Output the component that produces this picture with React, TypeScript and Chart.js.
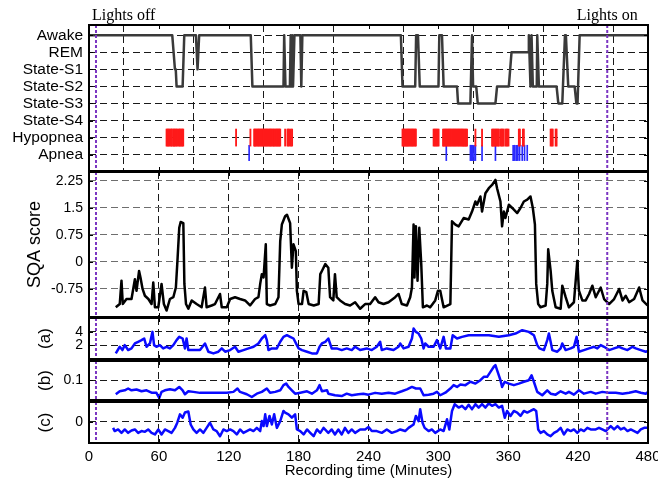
import React, { useEffect, useRef } from "react";
import { Chart, registerables } from "chart.js";

Chart.register(...registerables);

const SANS = '"Liberation Sans", Arial, Helvetica, sans-serif';
const SERIF = '"Liberation Serif", "Times New Roman", serif';

// ---------- data ----------
const stageLabels = ["Awake", "REM", "State-S1", "State-S2", "State-S3", "State-S4", "Hypopnea", "Apnea"];
const xTickValues = [0, 60, 120, 180, 240, 300, 360, 420, 480];
const sqaTicks = [-0.75, 0, 0.75, 1.5, 2.25];
const aTicks = [2, 4];
const bTicks = [0.1];
const cTicks = [0];
const lightsOff = 6;
const lightsOn = 445;

// hypnogram: [minute, stage index]
const hypnogram: [number, number][] = [
  [0, 0], [71.5, 0], [73.8, 2], [74.5, 2], [75.2, 3], [80.4, 3], [81.8, 0], [91.8, 0], [93.2, 2], [94.6, 0],
  [138.9, 0], [140.3, 3], [167, 3], [167.6, 0], [168.7, 3], [172.5, 3], [173.2, 0], [173.8, 3], [174.5, 0],
  [175.2, 3], [175.8, 3], [176.4, 0], [181.5, 0], [182.3, 3], [183.2, 0], [267.8, 0], [269.2, 3], [280.1, 3],
  [280.9, 0], [282.5, 0], [284, 3], [300.1, 3], [300.8, 0], [303.1, 0], [304.5, 3], [316, 3], [316.9, 4],
  [327.5, 4], [328.9, 0], [329.8, 3], [332.5, 3], [333.8, 4], [349, 4], [350.4, 3], [360.5, 3], [362.8, 1],
  [377.1, 1], [377.7, 0], [379.1, 3], [380, 0], [381.1, 3], [384.5, 3], [384.9, 0], [386.3, 3], [401.5, 3],
  [403, 4], [406.4, 4], [408.7, 0], [409.5, 0], [411.5, 3], [417, 3], [418.5, 4], [419.5, 4], [421.3, 0], [480, 0],
];

const hypopneaTimes = [
  66.6, 67.3, 68.1, 68.8, 69.9, 70.6, 71.2, 72.3, 73.0, 73.6, 74.5, 75.3, 76.0, 77.2, 77.9, 78.6, 79.5, 80.2, 80.9,
  126.3, 138.6,
  141.8, 142.5, 143.2, 144.0, 144.9, 145.6, 146.3, 147.2, 147.9, 148.8, 149.5, 150.1, 151.0, 151.8, 152.6, 153.3,
  154.2, 155.0, 155.7, 156.4, 157.3, 158.1, 158.8, 159.6, 160.5, 161.3, 162.0, 162.8, 163.5, 164.2,
  168.4, 170.4, 171.2, 172.1, 173.4, 174.4,
  269.2, 269.9, 270.6, 271.4, 272.3, 273.0, 273.8, 274.5, 275.3, 276.1, 276.9, 277.6, 278.3, 279.2, 280.0, 280.7,
  295.9, 296.7, 297.6, 298.4, 299.3, 300.2,
  304.0, 304.8, 305.6, 306.4, 307.2, 308.1, 308.9, 309.7, 310.5, 311.3, 312.2, 313.0, 313.8, 314.6, 315.4, 316.3,
  317.1, 317.9, 318.8, 319.6, 320.4, 321.2, 322.0, 322.9, 323.7, 324.6,
  331.8, 337.5,
  346.1, 346.9, 347.7, 348.6, 349.4, 350.2, 351.1, 352.0, 353.5, 354.3, 355.1, 356.0, 357.6, 358.5, 359.3, 360.2,
  369.1, 370.0, 372.6, 373.4,
  396.4, 397.3, 398.2, 400.7, 401.5,
];

const apneaTimes = [
  137.5, 306.8, 327.5, 328.3, 329.5, 330.6, 331.8, 337.5, 349, 364.2, 365.4, 366.8, 368.2, 369.7, 372, 374, 376.3,
];

// SQA score: [minute, score]
const sqaSeries: [number, number][] = [
  [23, -1.26], [26.4, -1.17], [27.9, -0.52], [29, -1.17], [32.2, -1.03], [36.5, -1.03], [39.4, -0.48], [40.8, -0.8],
  [43, -0.25], [44.2, -0.43], [46, -0.75], [48, -0.94], [51, -1.03], [53.7, -1.17], [55.2, -0.57], [56.6, -1.26],
  [59.5, -1.26], [62.3, -0.61], [64.3, -1.17], [66.6, -1.35], [69.5, -1.03], [72.4, -0.98], [74.6, -0.71],
  [76.1, 0.12], [77.5, 0.95], [78.7, 1.11], [81, 1.08], [81.9, -0.61], [83.3, -1.17], [85.3, -1.3], [88.2, -1.07],
  [92.4, -1.17], [96.7, -1.26], [99.6, -0.71], [101, -1.26], [105.3, -1.21], [108.2, -1.17], [112.5, -0.89],
  [114, -1.26], [118.3, -1.26], [121.2, -1.03], [125.4, -0.98], [129.7, -1.03], [134, -1.07], [138.3, -1.21],
  [142.6, -1.03], [145.5, -0.98], [147, -0.61], [148.4, -0.34], [149.9, -0.43], [151.8, 0.49], [152.7, -1.17],
  [155.5, -1.21], [159.9, -1.17], [162.7, -0.98], [164.2, 0.58], [165.6, 1.04], [168.4, 1.27], [170, 1.31],
  [172.7, 1.08], [174.2, -0.16], [175.6, 0.49], [177.6, 0.3], [178.5, -0.8], [180, -1.17], [182.9, -1.17],
  [184.3, -0.8], [186.6, -0.84], [188.6, -1.17], [193, -1.21], [197.2, -1.17], [198.6, -0.34], [200, -0.25],
  [202.9, -0.06], [205.5, -0.16], [207, -0.98], [209.8, -1.07], [211.2, -0.34], [212.7, -0.98], [215.6, -1.07],
  [219.9, -1.17], [224.2, -1.21], [228.5, -1.12], [232.8, -1.3], [237.1, -1.17], [241.4, -1.17], [245.7, -0.98],
  [248.6, -1.12], [252.9, -1.17], [257.2, -1.12], [262.9, -0.98], [265.8, -0.89], [268.6, -1.17], [273, -1.21],
  [275.8, -0.98], [277.3, -0.71], [278.7, 1.04], [279.5, -0.43], [280.7, 0.99], [282.1, -0.52], [283.6, 0.95],
  [285.3, -0.06], [286.7, -1.26], [290.2, -1.21], [293, -1.26], [297.3, -1.07], [299.6, -0.8], [301.6, -0.8],
  [304.5, -1.26], [310.3, -1.17], [311.7, 1.13], [314.6, 1.04], [317.4, 0.99], [321.7, 1.22], [326, 1.18],
  [328.9, 1.4], [331.8, 1.68], [333.2, 1.59], [336.1, 1.82], [337.5, 1.4], [340.4, 1.91], [343.3, 2.05],
  [346.1, 2.14], [349, 2.28], [350.4, 2.05], [353.3, 1.68], [354.7, 0.99], [356.2, 1.4], [357.6, 1.22],
  [360.5, 1.59], [363.4, 1.5], [367.7, 1.36], [370.5, 1.5], [373.4, 1.68], [376.3, 1.73], [379.1, 1.82],
  [381.1, 1.5], [382.9, 1.04], [384, -0.61], [385.7, -1.17], [387.7, -1.26], [392.1, -1.21], [393.5, -0.61],
  [394.3, 0.35], [396.4, -0.25], [397.8, -0.8], [400.7, -1.26], [405, -1.3], [406.4, -0.66], [409.3, -0.98],
  [412.1, -1.26], [416.4, -1.12], [419.3, 0.03], [420.7, -0.8], [423.6, -1.07], [426.5, -1.07], [429.4, -0.89],
  [432.2, -0.66], [435.1, -0.98], [439.4, -0.71], [442.3, -1.03], [446.6, -1.17], [450.9, -1.03], [455.2, -0.75],
  [458.1, -1.07], [460.9, -0.94], [463.8, -1.12], [468.1, -1.03], [472.4, -0.71], [475.3, -1.07], [479.6, -1.21],
];

// panel (a)
const seriesA: [number, number][] = [
  [23, 0.75], [26.4, 1.75], [28.7, 1.25], [30.7, 2], [33.6, 1.25], [36.5, 1.5], [39.4, 2.25], [42.2, 2.5],
  [45.1, 2.75], [47.4, 3], [49.4, 1.75], [52.3, 2.25], [54.5, 4], [55.9, 2], [57.9, 1.75], [60.8, 2], [63.7, 1.5],
  [66.6, 1.75], [69.5, 1.5], [72.4, 2], [75.2, 2.75], [77.5, 3.25], [80.4, 3], [82.4, 1.5], [83.8, 3], [85.3, 1.25],
  [89.6, 1.25], [95.3, 1.25], [99.6, 2.25], [102.5, 1], [106.8, 0.75], [111.1, 1], [114, 1.5], [116.9, 1],
  [121.2, 1.25], [125.4, 1.75], [128.3, 1], [132.6, 1.25], [137, 1.5], [141.3, 1.75], [145.5, 2.25], [148.4, 3],
  [151.3, 3.5], [152.7, 2.75], [154.1, 1.25], [157, 1.5], [161.3, 1.5], [164.2, 2.5], [167, 3.25], [169.9, 3.5],
  [172.7, 3.25], [175.6, 3], [178.5, 2], [180, 1.5], [182.9, 1.25], [187.2, 1], [191.4, 0.75], [195.7, 0.75],
  [198, 1.75], [200, 2.25], [202.9, 2.5], [205.5, 3], [208.4, 1.5], [212.7, 1.5], [217, 1.25], [221.3, 1.5],
  [225.6, 1.25], [228.5, 1.75], [232.8, 1.25], [238.5, 1.5], [242.8, 1.25], [247.1, 1.75], [250, 2.5],
  [251.4, 1.25], [255.7, 1.5], [261.5, 1.25], [265.8, 1.75], [267.2, 2.25], [270.1, 1.5], [274.4, 1.75],
  [277.3, 3], [278.7, 4.5], [280.7, 4], [283, 3.75], [285.3, 3], [287.3, 1.5], [288.7, 2.25], [291.6, 1.75],
  [295.9, 1.75], [298.8, 2.75], [301.6, 1.5], [304.5, 3.25], [306.5, 1.5], [310.3, 1.5], [312.3, 3.5], [316, 3],
  [320.3, 3.25], [326, 3.5], [334.7, 3.5], [343.3, 3.5], [351.9, 3.25], [360.5, 3.5], [366.2, 3.75], [372, 4.25],
  [377.7, 4], [382, 3.5], [384.9, 2], [386.9, 1.5], [390.6, 1.25], [393.5, 2.75], [394.9, 3.75], [396.4, 2.5],
  [397.8, 1.25], [402.1, 1], [405, 1.5], [406.4, 2.25], [409.3, 1.25], [413.6, 1.5], [416.4, 1.75], [418.7, 3.25],
  [420.7, 1], [425, 1.25], [429.4, 1.5], [433.7, 1.75], [436.5, 1.5], [439.4, 2], [442.3, 1.75], [446.6, 1.25],
  [450.9, 1.5], [455.2, 1.75], [458.1, 1.5], [462.4, 1.25], [466.7, 1.75], [469.5, 1.5], [473.8, 1.25],
  [478.1, 1], [480, 1.1],
];

// panel (b)
const seriesB: [number, number][] = [
  [23, 0.029], [26.4, 0.044], [30.7, 0.049], [33.6, 0.058], [36.5, 0.049], [40.8, 0.053], [45.1, 0.044],
  [49.4, 0.049], [53.7, 0.037], [57.9, 0.036], [60.3, 0.01], [62.3, 0.041], [65.2, 0.049], [69.5, 0.054],
  [73.8, 0.049], [77.5, 0.066], [80.4, 0.049], [82.4, 0.029], [85.3, 0.044], [89.6, 0.041], [95.3, 0.036],
  [101, 0.037], [106.8, 0.037], [112.5, 0.036], [118.3, 0.037], [124, 0.041], [127.5, 0.058], [129.7, 0.041],
  [135.5, 0.029], [139.8, 0.015], [144.1, 0.032], [148.4, 0.041], [152.7, 0.058], [155.5, 0.037], [159.9, 0.041],
  [164.2, 0.049], [167, 0.075], [169.3, 0.083], [171.3, 0.066], [174.2, 0.049], [177, 0.032], [181.4, 0.037],
  [187.2, 0.044], [191.4, 0.032], [195.7, 0.049], [198, 0.075], [200, 0.044], [204.4, 0.049], [205.5, 0.032],
  [211.2, 0.024], [217, 0.02], [221.3, 0.032], [225.6, 0.024], [231.3, 0.029], [235.6, 0.032], [239.9, 0.027],
  [245.7, 0.036], [251.4, 0.032], [257.2, 0.037], [262.9, 0.032], [268.6, 0.044], [273, 0.054], [277.3, 0.066],
  [280.7, 0.058], [284.4, 0.058], [287.3, 0.024], [291.6, 0.027], [295.9, 0.032], [298.8, 0.041], [301.6, 0.024],
  [306, 0.037], [310.3, 0.058], [313.1, 0.075], [316, 0.066], [318.9, 0.078], [323.2, 0.075], [327.5, 0.092],
  [331.8, 0.083], [336.1, 0.1], [339, 0.117], [341.9, 0.117], [344.7, 0.142], [347.6, 0.168], [349, 0.176],
  [350.4, 0.151], [353.3, 0.1], [354.7, 0.066], [357, 0.092], [360.5, 0.083], [364.8, 0.075], [369.1, 0.083],
  [373.4, 0.092], [377.7, 0.1], [380, 0.125], [382, 0.092], [384.9, 0.041], [389.2, 0.024], [393.5, 0.049],
  [396.4, 0.032], [400.7, 0.027], [405, 0.044], [409.3, 0.032], [412.1, 0.041], [416.4, 0.027], [420.7, 0.049],
  [425, 0.032], [430.8, 0.041], [435.1, 0.032], [440.8, 0.041], [446.6, 0.036], [452.3, 0.037], [458.1, 0.032],
  [463.8, 0.037], [469.5, 0.044], [473.8, 0.037], [478.1, 0.032], [480, 0.041],
];

// panel (c)
const seriesC: [number, number][] = [
  [20.7, -0.31], [22.1, -0.47], [25, -0.39], [27.9, -0.56], [30.7, -0.39], [33.6, -0.56], [36.5, -0.44],
  [39.4, -0.39], [42.2, -0.56], [45.1, -0.47], [48, -0.51], [50.8, -0.39], [53.7, -0.56], [56.6, -0.64],
  [59.5, -0.39], [62.3, -0.64], [65.2, -0.39], [68.1, -0.47], [70.9, -0.56], [73.8, -0.31], [75.8, -0.05],
  [78.1, 0.37], [80.4, 0.2], [82.4, 0.46], [85.3, 0.51], [87.3, -0.14], [89.6, -0.39], [92.4, -0.56],
  [95.3, -0.39], [98.2, -0.56], [101, -0.31], [103.9, -0.05], [106.8, -0.39], [109.6, -0.47], [112.5, -0.73],
  [115.4, -0.39], [118.3, -0.47], [121.2, -0.39], [124, -0.47], [126.9, -0.64], [129.7, -0.39], [132.6, -0.56],
  [135.5, -0.47], [138.3, -0.39], [141.2, -0.47], [144.1, -0.31], [147, -0.47], [148.4, 0.03], [149.9, -0.22],
  [151.3, 0.37], [152.7, -0.22], [155, 0.29], [157, -0.14], [159, 0.37], [161.3, -0.31], [164.2, 0.03],
  [167, 0.54], [168.4, 0.46], [171.3, 0.37], [174.2, 0.2], [177, 0.37], [178.5, -0.39], [181.4, -0.47],
  [184.3, -0.64], [187.2, -0.39], [190, -0.56], [192.9, -0.73], [195.7, -0.39], [198.6, -0.56], [201.4, -0.31],
  [205.5, -0.56], [208.4, -0.39], [211.2, -0.64], [214.1, -0.39], [217, -0.64], [219.8, -0.31], [222.7, -0.56],
  [225.6, -0.39], [228.5, -0.56], [232.8, -0.39], [237.1, -0.39], [240, -0.27], [242.8, -0.47], [247.1, -0.47],
  [251.4, -0.56], [255.7, -0.39], [260, -0.56], [264.3, -0.47], [267.2, -0.39], [271.5, -0.47], [274.4, -0.31],
  [278.7, -0.14], [280.7, 0.29], [283, 0.03], [284.4, 0.63], [286.4, -0.05], [288.2, -0.31], [291.6, -0.47],
  [294.4, -0.39], [297.3, -0.56], [301.6, -0.39], [304.5, -0.47], [307.4, 0.12], [309.4, -0.39], [311.7, 0.54],
  [314, 0.88], [317.4, 0.71], [320.3, 0.8], [323.2, 0.63], [326, 0.85], [328.9, 0.63], [331.8, 0.88],
  [334.6, 0.71], [337.5, 0.88], [340.4, 0.71], [343.3, 0.92], [346.1, 0.8], [349, 0.88], [351.9, 0.71],
  [354.7, 0.8], [357, 0.2], [359, 0.54], [361.9, 0.29], [364.8, 0.54], [367.7, 0.46], [370.5, 0.29],
  [373.4, 0.54], [376.3, 0.46], [379.1, 0.54], [382, 0.63], [384, 0.54], [385.7, -0.39], [387.7, -0.56],
  [390.6, -0.47], [393.5, -0.64], [396.4, -0.73], [399.3, -0.56], [402.1, -0.47], [405, -0.31], [407.8, -0.64],
  [410.7, -0.39], [413.6, -0.47], [416.4, -0.39], [419.3, -0.56], [422.2, -0.39], [425, -0.47], [427.9, -0.31],
  [430.8, -0.39], [435.1, -0.39], [437.9, -0.31], [440.8, -0.39], [443.7, -0.47], [448, -0.22], [450.9, -0.39],
  [453.8, -0.22], [456.6, -0.39], [459.5, -0.31], [462.4, -0.47], [465.2, -0.39], [468.1, -0.47], [471, -0.56],
  [473.8, -0.39], [476.7, -0.31], [480, -0.31],
];

// ---------- helpers ----------
const toXY = (pts: [number, number][]) => pts.map(([x, y]) => ({ x, y }));
const toBars = (times: number[], lo: number, hi: number) => times.map((t) => ({ x: t, y: [lo, hi] }));

const framePlugin = {
  id: "frame",
  afterDatasetsDraw(chart: any, _args: any, opts: any) {
    const { ctx, chartArea: a, scales } = chart;
    const xs = scales.x;
    const ys = scales.y;
    ctx.save();
    // lights off / on markers
    ctx.strokeStyle = "#7b35c2";
    ctx.lineWidth = 2;
    ctx.setLineDash([3, 2]);
    for (const t of [lightsOff, lightsOn]) {
      const px = xs.getPixelForValue(t);
      ctx.beginPath();
      ctx.moveTo(px, a.top);
      ctx.lineTo(px, a.bottom);
      ctx.stroke();
    }
    ctx.setLineDash([]);
    // inward tick marks
    ctx.strokeStyle = "#000";
    ctx.lineWidth = 1;
    ctx.beginPath();
    ys.ticks.forEach((tk: any) => {
      const py = Math.round(ys.getPixelForValue(tk.value)) + 0.5;
      ctx.moveTo(a.left, py);
      ctx.lineTo(a.left + 4, py);
      ctx.moveTo(a.right, py);
      ctx.lineTo(a.right - 4, py);
    });
    xs.ticks.forEach((tk: any) => {
      const px = Math.round(xs.getPixelForValue(tk.value)) + 0.5;
      ctx.moveTo(px, a.top);
      ctx.lineTo(px, a.top + 4);
      ctx.moveTo(px, a.bottom);
      ctx.lineTo(px, a.bottom - 4);
    });
    ctx.stroke();
    // frame
    ctx.lineWidth = 2;
    ctx.strokeRect(a.left, a.top, a.right - a.left, a.bottom - a.top);
    // labels above the plot
    if (opts && opts.lights) {
      ctx.fillStyle = "#000";
      ctx.font = `16px ${SERIF}`;
      ctx.textBaseline = "alphabetic";
      ctx.textAlign = "left";
      ctx.fillText("Lights off", xs.getPixelForValue(lightsOff) - 4, 20);
      ctx.textAlign = "center";
      ctx.fillText("Lights on", xs.getPixelForValue(lightsOn), 20);
    }
    ctx.restore();
  },
};

function xScale(show: boolean) {
  return {
    type: "linear",
    min: 0,
    max: 480,
    offset: false,
    afterBuildTicks: (s: any) => {
      s.ticks = xTickValues.map((v) => ({ value: v }));
    },
    afterFit: (s: any) => {
      s.height = show ? 42 : 0;
      s.paddingLeft = 0;
      s.paddingRight = 0;
      s.paddingTop = 0;
      s.paddingBottom = 0;
    },
    grid: { color: "#1a1a1a", lineWidth: 1, drawTicks: false },
    border: { display: false, dash: [7, 4] },
    ticks: {
      display: show,
      padding: 5,
      color: "#000",
      font: { family: SANS, size: 15 },
      maxRotation: 0,
      autoSkip: false,
    },
    title: show
      ? {
          display: true,
          text: "Recording time (Minutes)",
          color: "#000",
          font: { family: SANS, size: 15 },
          padding: { top: 0, bottom: 5 },
        }
      : { display: false },
  };
}

type YOpts = {
  min: number;
  max: number;
  ticks: number[];
  labels?: string[];
  reverse?: boolean;
  title?: string;
  titleSize?: number;
  titlePad?: number;
  tickSize: number;
  gridColor: string;
};

function yScale(o: YOpts) {
  return {
    type: "linear",
    position: "left",
    min: o.min,
    max: o.max,
    reverse: !!o.reverse,
    afterBuildTicks: (s: any) => {
      s.ticks = o.ticks.map((v) => ({ value: v }));
    },
    afterFit: (s: any) => {
      s.width = 89;
      s.paddingLeft = 0;
      s.paddingRight = 0;
      s.paddingTop = 0;
      s.paddingBottom = 0;
    },
    ticks: {
      color: "#000",
      padding: 6,
      autoSkip: false,
      font: { family: SANS, size: o.tickSize },
      callback: (v: any) => (o.labels ? o.labels[v] : String(v)),
    },
    grid: { color: o.gridColor, lineWidth: 1, drawTicks: false },
    border: { display: false, dash: [7, 4] },
    title: o.title
      ? {
          display: true,
          text: o.title,
          color: "#000",
          font: { family: SANS, size: o.titleSize },
          padding: { top: o.titlePad, bottom: 0 },
        }
      : { display: false },
  };
}

function lineDs(pts: [number, number][], color: string, width: number) {
  return {
    type: "line",
    data: toXY(pts),
    borderColor: color,
    borderWidth: width,
    pointRadius: 0,
    tension: 0,
    fill: false,
    borderJoinStyle: "round",
  };
}

type PanelDef = {
  top: number;
  height: number;
  padTop: number;
  padBottom: number;
  showX: boolean;
  lights: boolean;
  datasets: any[];
  y: YOpts;
};

const panels: PanelDef[] = [
  {
    top: 0,
    height: 177,
    padTop: 25,
    padBottom: 6,
    showX: false,
    lights: true,
    datasets: [
      lineDs(hypnogram, "#3a3a3a", 2.5),
      {
        type: "bar",
        data: toBars(hypopneaTimes, 5.5, 6.5),
        backgroundColor: "#ff1a1a",
        borderWidth: 0,
        barThickness: 1.2,
        grouped: false,
      },
      {
        type: "bar",
        data: toBars(apneaTimes, 6.45, 7.35),
        backgroundColor: "#2a2aff",
        borderWidth: 0,
        barThickness: 1,
        grouped: false,
      },
    ],
    y: { min: -0.6, max: 7.96, ticks: [0, 1, 2, 3, 4, 5, 6, 7], labels: stageLabels, reverse: true, tickSize: 15.5, gridColor: "#1a1a1a" },
  },
  {
    top: 166,
    height: 157,
    padTop: 6,
    padBottom: 6,
    showX: false,
    lights: false,
    datasets: [lineDs(sqaSeries, "#000", 2.5)],
    y: { min: -1.53, max: 2.5, ticks: sqaTicks, tickSize: 14, gridColor: "#6e6e6e", title: "SQA score", titleSize: 18, titlePad: 24 },
  },
  {
    top: 312,
    height: 53,
    padTop: 6,
    padBottom: 6,
    showX: false,
    lights: false,
    datasets: [lineDs(seriesA, "#0a0aff", 2.5)],
    y: { min: -0.1, max: 6.1, ticks: aTicks, tickSize: 14, gridColor: "#1a1a1a", title: "(a)", titleSize: 17, titlePad: 35 },
  },
  {
    top: 355,
    height: 51,
    padTop: 6,
    padBottom: 6,
    showX: false,
    lights: false,
    datasets: [lineDs(seriesB, "#0a0aff", 2.5)],
    y: { min: 0, max: 0.197, ticks: bTicks, tickSize: 14, gridColor: "#1a1a1a", title: "(b)", titleSize: 17, titlePad: 35 },
  },
  {
    top: 396,
    height: 89,
    padTop: 6,
    padBottom: 0,
    showX: true,
    lights: false,
    datasets: [lineDs(seriesC, "#0a0aff", 2.5)],
    y: { min: -1.07, max: 0.99, ticks: cTicks, tickSize: 14, gridColor: "#1a1a1a", title: "(c)", titleSize: 17, titlePad: 35 },
  },
];

export default function App() {
  const refs = useRef<(HTMLCanvasElement | null)[]>([]);

  useEffect(() => {
    Chart.defaults.font.family = SANS;
    const charts = panels.map((p, i) => {
      const canvas = refs.current[i] as HTMLCanvasElement;
      return new Chart(canvas, {
        type: "line",
        data: { datasets: p.datasets },
        options: {
          responsive: false,
          animation: false,
          devicePixelRatio: 1,
          layout: { padding: { left: 0, right: 10, top: p.padTop, bottom: p.padBottom } },
          plugins: {
            legend: { display: false },
            tooltip: { enabled: false },
            frame: { lights: p.lights },
          } as any,
          scales: {
            x: xScale(p.showX) as any,
            y: yScale(p.y) as any,
          },
        },
        plugins: [framePlugin as any],
      } as any);
    });
    return () => charts.forEach((c) => c.destroy());
  }, []);

  return (
    <div style={{ position: "absolute", left: 0, top: 0, width: 658, height: 485, background: "#fff", overflow: "hidden" }}>
      {panels.map((p, i) => (
        <canvas
          key={i}
          ref={(el) => {
            refs.current[i] = el;
          }}
          width={658}
          height={p.height}
          style={{ position: "absolute", left: 0, top: p.top, width: 658, height: p.height }}
        />
      ))}
    </div>
  );
}
